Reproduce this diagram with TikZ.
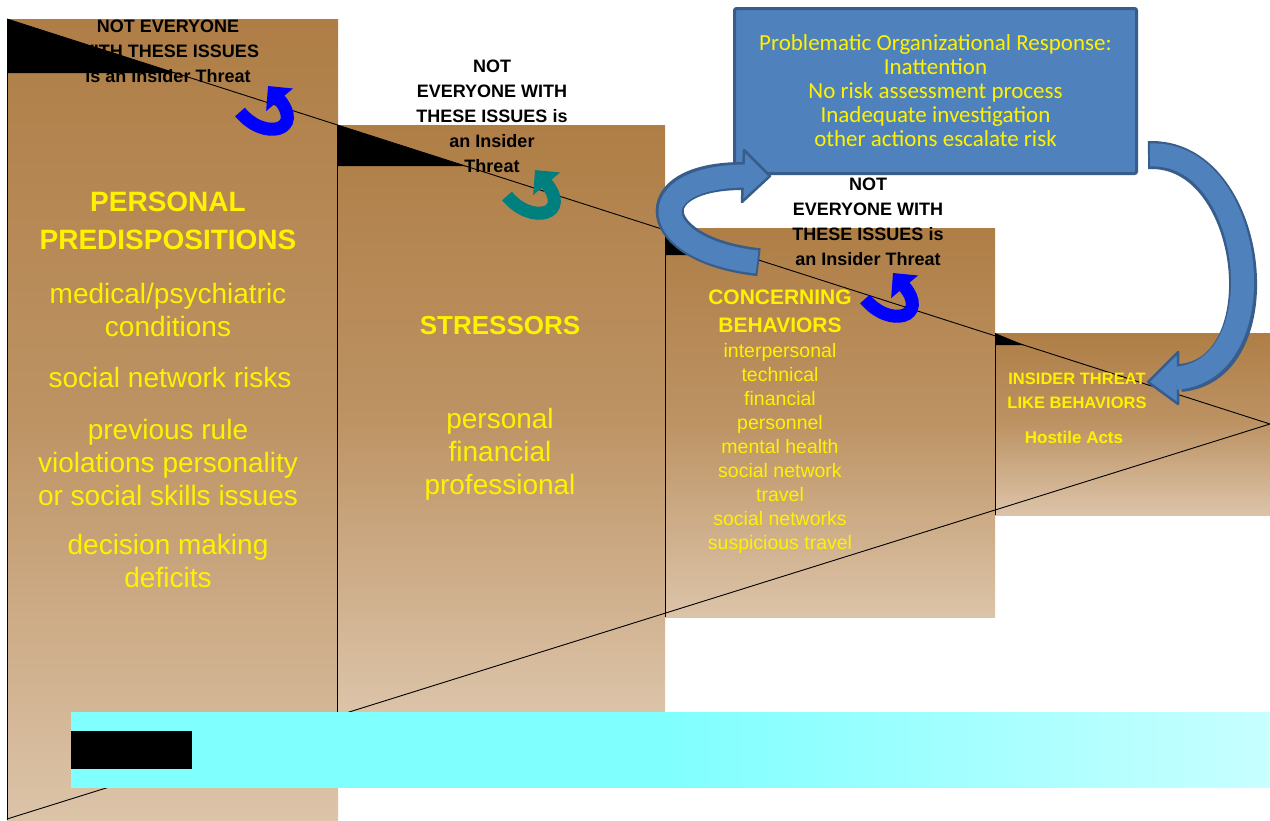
\documentclass[tikz,border=0pt]{standalone}
\usepackage{fontspec}
\setmainfont{Liberation Sans}
\newfontfamily\calibri{Carlito}
\usetikzlibrary{arrows.meta}

\definecolor{tanTop}{HTML}{AF7E46}
\definecolor{tanMid}{HTML}{BD9364}
\definecolor{tanBot}{HTML}{DCC4A9}
\definecolor{boxBlue}{HTML}{4F81BD}
\definecolor{boxEdge}{HTML}{385D8A}
\definecolor{tealArrow}{HTML}{007F7F}
\definecolor{cyanL}{HTML}{80FFFF}
\definecolor{cyanR}{HTML}{C8FFFF}

\tikzset{
  panel/.style={anchor=north west, inner sep=0pt, outer sep=0pt, top color=tanTop, bottom color=tanBot, middle color=tanMid},
  warn/.style={align=center, font=\bfseries\fontsize{18}{25}\selectfont},
  title/.style={align=center, text=yellow, font=\bfseries\fontsize{28}{38}\selectfont},
  items/.style={align=center, text=yellow, font=\fontsize{28}{33}\selectfont},
  turn/.style={line width=13pt, -{Triangle[length=18pt,width=34pt]}},
  band/.style={line width=28pt, boxEdge},
  bandfill/.style={line width=23pt, boxBlue},
  barhead/.style={fill=boxBlue, draw=boxEdge, line width=2.5pt, line join=round},
}

\begin{document}
\begin{tikzpicture}[x=1pt, y=-1pt]
  \useasboundingbox (0,0) rectangle (1270,820);

  \node (pred)[panel, minimum width=331pt, minimum height=801pt] at (7,19) {};
  \node (stress)[panel, minimum width=328pt, minimum height=587pt] at (337,125) {};
  \node (concern)[panel, minimum width=330pt, minimum height=389pt] at (665,228) {};
  \node (insider)[panel, minimum width=275pt, minimum height=182pt] at (995,333) {};

  \foreach \p in {pred,stress,concern,insider}
    \draw[line width=1pt] (\p.north west) -- (\p.south west);

  \fill (pred.north west) -- (7,73) -- (175,73) -- cycle;
  \fill (stress.north west) -- (337,166) -- (465,166) -- cycle;
  \fill (concern.north west) -- (665,255) -- (743,255) -- cycle;
  \fill (insider.north west) -- (995,345) -- (1024,345) -- cycle;

  \coordinate (mouth-top) at (7,19);
  \coordinate (mouth-bot) at (7,819);
  \coordinate (tip) at (1270,424);
  \draw[line width=0.9pt] (mouth-top) -- (tip) -- (mouth-bot);

  \node (pred-warn)[warn] at (168,51) {NOT EVERYONE\\WITH THESE ISSUES\\is an Insider Threat};
  \node (pred-title)[title] at (168,221) {PERSONAL\\PREDISPOSITIONS};
  \node (pred-1)[items] at (168,310) {medical/psychiatric\\conditions};
  \node (pred-2)[items] at (170,377) {social network risks};
  \node (pred-3)[items] at (168,462) {previous rule\\violations personality\\or social skills issues};
  \node (pred-4)[items] at (168,561) {decision making\\deficits};

  \node (stress-warn)[warn] at (492,116) {NOT\\EVERYONE WITH\\THESE ISSUES is\\an Insider\\Threat};
  \node (stress-title)[title, font=\bfseries\fontsize{26}{38}\selectfont] at (500,326) {STRESSORS};
  \node (stress-1)[items] at (500,454) {personal\\financial\\professional};

  \node (concern-warn)[warn] at (868,222) {NOT\\EVERYONE WITH\\THESE ISSUES is\\an Insider Threat};
  \node (concern-title)[title, font=\bfseries\fontsize{21}{28}\selectfont] at (780,311) {CONCERNING\\BEHAVIORS};
  \node (concern-1)[items, font=\fontsize{19.5}{24}\selectfont] at (780,448) {interpersonal\\technical\\financial\\personnel\\mental health\\social network\\travel\\social networks\\suspicious travel};

  \node (insider-title)[title, font=\bfseries\fontsize{16.5}{24}\selectfont] at (1077,391) {INSIDER THREAT\\LIKE BEHAVIORS};
  \node (insider-1)[title, font=\bfseries\fontsize{17}{24}\selectfont] at (1074,437) {Hostile Acts};

  \draw[turn, blue] (240,112) .. controls (265,142) and (305,130) .. (268,86);
  \draw[turn, tealArrow] (507,196) .. controls (532,226) and (572,214) .. (535,170);
  \draw[turn, blue] (865,299) .. controls (890,329) and (930,317) .. (893,273);

  \node (response)[draw=boxEdge, line width=3pt, fill=boxBlue, rounded corners=2pt, minimum width=402pt, minimum height=165pt, inner sep=0pt, align=center, text=yellow, font=\calibri\fontsize{23}{24}\selectfont] at (935.5,91) {Problematic Organizational Response:\\Inattention\\No risk assessment process\\Inadequate investigation\\other actions escalate risk};

  \draw[band, shorten <=-2pt] (757,262) .. controls (648,250) and (638,176) .. (743,176);
  \filldraw[barhead] (744,150) -- (770,176) -- (742,202) -- cycle;
  \draw[bandfill, shorten >=-4pt] (757,262) .. controls (648,250) and (638,176) .. (743,176);

  \draw[band, shorten <=-2pt] (1150,155) .. controls (1255,150) and (1280,370) .. (1180,378);
  \filldraw[barhead] (1178,352) -- (1148,382) -- (1178,404) -- cycle;
  \draw[bandfill, shorten >=-4pt] (1150,155) .. controls (1255,150) and (1280,370) .. (1180,378);

  \node (bar)[anchor=north west, inner sep=0pt, minimum width=1199pt, minimum height=75pt, left color=cyanL, right color=cyanR, middle color=cyanL] at (71,712) {};
  \node (bar-mark)[anchor=north west, inner sep=0pt, fill=black, minimum width=121pt, minimum height=38pt] at (71,731) {};
\end{tikzpicture}
\end{document}
